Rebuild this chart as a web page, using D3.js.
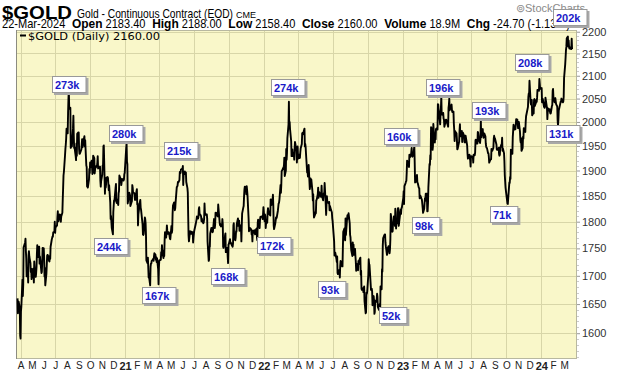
<!DOCTYPE html>
<html><head><meta charset="utf-8">
<script src="https://cdn.jsdelivr.net/npm/d3@7"></script>
<style>body{margin:0;background:#fff}svg{display:block}</style>
</head><body><svg id="c" width="620" height="376"></svg>
<script>
const dates = [
"2020-03-24","2020-03-25","2020-03-26","2020-03-27","2020-03-30","2020-03-31","2020-04-01","2020-04-02","2020-04-03","2020-04-06","2020-04-07","2020-04-08","2020-04-09","2020-04-13","2020-04-14","2020-04-15","2020-04-16","2020-04-17","2020-04-20","2020-04-21","2020-04-22","2020-04-23","2020-04-24","2020-04-27","2020-04-28","2020-04-29","2020-04-30","2020-05-01","2020-05-04","2020-05-05","2020-05-06","2020-05-07","2020-05-08","2020-05-11","2020-05-12","2020-05-13","2020-05-14","2020-05-15","2020-05-18","2020-05-19","2020-05-20","2020-05-21","2020-05-22","2020-05-26","2020-05-27","2020-05-28","2020-05-29","2020-06-01","2020-06-02","2020-06-03","2020-06-04","2020-06-05","2020-06-08","2020-06-09","2020-06-10","2020-06-11","2020-06-12","2020-06-15","2020-06-16","2020-06-17","2020-06-18","2020-06-19","2020-06-22","2020-06-23","2020-06-24","2020-06-25","2020-06-26","2020-06-29","2020-06-30","2020-07-01","2020-07-02","2020-07-06","2020-07-07","2020-07-08","2020-07-09","2020-07-10","2020-07-13","2020-07-14","2020-07-15","2020-07-16","2020-07-17","2020-07-20","2020-07-21","2020-07-22","2020-07-23","2020-07-24","2020-07-27","2020-07-28","2020-07-29","2020-07-30","2020-07-31","2020-08-03","2020-08-04","2020-08-05","2020-08-06","2020-08-07","2020-08-10","2020-08-11","2020-08-12","2020-08-13","2020-08-14","2020-08-17","2020-08-18","2020-08-19","2020-08-20","2020-08-21","2020-08-24","2020-08-25","2020-08-26","2020-08-27","2020-08-28","2020-08-31","2020-09-01","2020-09-02","2020-09-03","2020-09-04","2020-09-08","2020-09-09","2020-09-10","2020-09-11","2020-09-14","2020-09-15","2020-09-16","2020-09-17","2020-09-18","2020-09-21","2020-09-22","2020-09-23","2020-09-24","2020-09-25","2020-09-28","2020-09-29","2020-09-30","2020-10-01","2020-10-02","2020-10-05","2020-10-06","2020-10-07","2020-10-08","2020-10-09","2020-10-12","2020-10-13","2020-10-14","2020-10-15","2020-10-16","2020-10-19","2020-10-20","2020-10-21","2020-10-22","2020-10-23","2020-10-26","2020-10-27","2020-10-28","2020-10-29","2020-10-30","2020-11-02","2020-11-03","2020-11-04","2020-11-05","2020-11-06","2020-11-09","2020-11-10","2020-11-11","2020-11-12","2020-11-13","2020-11-16","2020-11-17","2020-11-18","2020-11-19","2020-11-20","2020-11-23","2020-11-24","2020-11-25","2020-11-27","2020-11-30","2020-12-01","2020-12-02","2020-12-03","2020-12-04","2020-12-07","2020-12-08","2020-12-09","2020-12-10","2020-12-11","2020-12-14","2020-12-15","2020-12-16","2020-12-17","2020-12-18","2020-12-21","2020-12-22","2020-12-23","2020-12-24","2020-12-28","2020-12-29","2020-12-30","2020-12-31",
"2021-01-04","2021-01-05","2021-01-06","2021-01-07","2021-01-08","2021-01-11","2021-01-12","2021-01-13","2021-01-14","2021-01-15","2021-01-19","2021-01-20","2021-01-21","2021-01-22","2021-01-25","2021-01-26","2021-01-27","2021-01-28","2021-01-29","2021-02-01","2021-02-02","2021-02-03","2021-02-04","2021-02-05","2021-02-08","2021-02-09","2021-02-10","2021-02-11","2021-02-12","2021-02-16","2021-02-17","2021-02-18","2021-02-19","2021-02-22","2021-02-23","2021-02-24","2021-02-25","2021-02-26","2021-03-01","2021-03-02","2021-03-03","2021-03-04","2021-03-05","2021-03-08","2021-03-09","2021-03-10","2021-03-11","2021-03-12","2021-03-15","2021-03-16","2021-03-17","2021-03-18","2021-03-19","2021-03-22","2021-03-23","2021-03-24","2021-03-25","2021-03-26","2021-03-29","2021-03-30","2021-03-31","2021-04-01","2021-04-05","2021-04-06","2021-04-07","2021-04-08","2021-04-09","2021-04-12","2021-04-13","2021-04-14","2021-04-15","2021-04-16","2021-04-19","2021-04-20","2021-04-21","2021-04-22","2021-04-23","2021-04-26","2021-04-27","2021-04-28","2021-04-29","2021-04-30","2021-05-03","2021-05-04","2021-05-05","2021-05-06","2021-05-07","2021-05-10","2021-05-11","2021-05-12","2021-05-13","2021-05-14","2021-05-17","2021-05-18","2021-05-19","2021-05-20","2021-05-21","2021-05-24","2021-05-25","2021-05-26","2021-05-27","2021-05-28","2021-06-01","2021-06-02","2021-06-03","2021-06-04","2021-06-07","2021-06-08","2021-06-09","2021-06-10","2021-06-11","2021-06-14","2021-06-15","2021-06-16","2021-06-17","2021-06-18","2021-06-21","2021-06-22","2021-06-23","2021-06-24","2021-06-25","2021-06-28","2021-06-29","2021-06-30","2021-07-01","2021-07-02","2021-07-06","2021-07-07","2021-07-08","2021-07-09","2021-07-12","2021-07-13","2021-07-14","2021-07-15","2021-07-16","2021-07-19","2021-07-20","2021-07-21","2021-07-22","2021-07-23","2021-07-26","2021-07-27","2021-07-28","2021-07-29","2021-07-30","2021-08-02","2021-08-03","2021-08-04","2021-08-05","2021-08-06","2021-08-09","2021-08-10","2021-08-11","2021-08-12","2021-08-13","2021-08-16","2021-08-17","2021-08-18","2021-08-19","2021-08-20","2021-08-23","2021-08-24","2021-08-25","2021-08-26","2021-08-27","2021-08-30","2021-08-31","2021-09-01","2021-09-02","2021-09-03","2021-09-07","2021-09-08","2021-09-09","2021-09-10","2021-09-13","2021-09-14","2021-09-15","2021-09-16","2021-09-17","2021-09-20","2021-09-21","2021-09-22","2021-09-23","2021-09-24","2021-09-27","2021-09-28","2021-09-29","2021-09-30","2021-10-01","2021-10-04","2021-10-05","2021-10-06","2021-10-07","2021-10-08","2021-10-11","2021-10-12","2021-10-13","2021-10-14","2021-10-15","2021-10-18","2021-10-19","2021-10-20","2021-10-21","2021-10-22","2021-10-25","2021-10-26","2021-10-27","2021-10-28","2021-10-29","2021-11-01","2021-11-02","2021-11-03","2021-11-04","2021-11-05","2021-11-08","2021-11-09","2021-11-10","2021-11-11","2021-11-12","2021-11-15","2021-11-16","2021-11-17","2021-11-18","2021-11-19","2021-11-22","2021-11-23","2021-11-24","2021-11-26","2021-11-29","2021-11-30","2021-12-01","2021-12-02","2021-12-03","2021-12-06","2021-12-07","2021-12-08","2021-12-09","2021-12-10","2021-12-13","2021-12-14","2021-12-15","2021-12-16","2021-12-17","2021-12-20","2021-12-21","2021-12-22","2021-12-23","2021-12-27","2021-12-28","2021-12-29","2021-12-30","2021-12-31",
"2022-01-03","2022-01-04","2022-01-05","2022-01-06","2022-01-07","2022-01-10","2022-01-11","2022-01-12","2022-01-13","2022-01-14","2022-01-18","2022-01-19","2022-01-20","2022-01-21","2022-01-24","2022-01-25","2022-01-26","2022-01-27","2022-01-28","2022-01-31","2022-02-01","2022-02-02","2022-02-03","2022-02-04","2022-02-07","2022-02-08","2022-02-09","2022-02-10","2022-02-11","2022-02-14","2022-02-15","2022-02-16","2022-02-17","2022-02-18","2022-02-22","2022-02-23","2022-02-24","2022-02-25","2022-02-28","2022-03-01","2022-03-02","2022-03-03","2022-03-04","2022-03-07","2022-03-08","2022-03-09","2022-03-10","2022-03-11","2022-03-14","2022-03-15","2022-03-16","2022-03-17","2022-03-18","2022-03-21","2022-03-22","2022-03-23","2022-03-24","2022-03-25","2022-03-28","2022-03-29","2022-03-30","2022-03-31","2022-04-01","2022-04-04","2022-04-05","2022-04-06","2022-04-07","2022-04-08","2022-04-11","2022-04-12","2022-04-13","2022-04-14","2022-04-18","2022-04-19","2022-04-20","2022-04-21","2022-04-22","2022-04-25","2022-04-26","2022-04-27","2022-04-28","2022-04-29","2022-05-02","2022-05-03","2022-05-04","2022-05-05","2022-05-06","2022-05-09","2022-05-10","2022-05-11","2022-05-12","2022-05-13","2022-05-16","2022-05-17","2022-05-18","2022-05-19","2022-05-20","2022-05-23","2022-05-24","2022-05-25","2022-05-26","2022-05-27","2022-05-31","2022-06-01","2022-06-02","2022-06-03","2022-06-06","2022-06-07","2022-06-08","2022-06-09","2022-06-10","2022-06-13","2022-06-14","2022-06-15","2022-06-16","2022-06-17","2022-06-21","2022-06-22","2022-06-23","2022-06-24","2022-06-27","2022-06-28","2022-06-29","2022-06-30","2022-07-01","2022-07-05","2022-07-06","2022-07-07","2022-07-08","2022-07-11","2022-07-12","2022-07-13","2022-07-14","2022-07-15","2022-07-18","2022-07-19","2022-07-20","2022-07-21","2022-07-22","2022-07-25","2022-07-26","2022-07-27","2022-07-28","2022-07-29","2022-08-01","2022-08-02","2022-08-03","2022-08-04","2022-08-05","2022-08-08","2022-08-09","2022-08-10","2022-08-11","2022-08-12","2022-08-15","2022-08-16","2022-08-17","2022-08-18","2022-08-19","2022-08-22","2022-08-23","2022-08-24","2022-08-25","2022-08-26","2022-08-29","2022-08-30","2022-08-31","2022-09-01","2022-09-02","2022-09-06","2022-09-07","2022-09-08","2022-09-09","2022-09-12","2022-09-13","2022-09-14","2022-09-15","2022-09-16","2022-09-19","2022-09-20","2022-09-21","2022-09-22","2022-09-23","2022-09-26","2022-09-27","2022-09-28","2022-09-29","2022-09-30","2022-10-03","2022-10-04","2022-10-05","2022-10-06","2022-10-07","2022-10-10","2022-10-11","2022-10-12","2022-10-13","2022-10-14","2022-10-17","2022-10-18","2022-10-19","2022-10-20","2022-10-21","2022-10-24","2022-10-25","2022-10-26","2022-10-27","2022-10-28","2022-10-31","2022-11-01","2022-11-02","2022-11-03","2022-11-04","2022-11-07","2022-11-08","2022-11-09","2022-11-10","2022-11-11","2022-11-14","2022-11-15","2022-11-16","2022-11-17","2022-11-18","2022-11-21","2022-11-22","2022-11-23","2022-11-25","2022-11-28","2022-11-29","2022-11-30","2022-12-01","2022-12-02","2022-12-05","2022-12-06","2022-12-07","2022-12-08","2022-12-09","2022-12-12","2022-12-13","2022-12-14","2022-12-15","2022-12-16","2022-12-19","2022-12-20","2022-12-21","2022-12-22","2022-12-23","2022-12-27","2022-12-28","2022-12-29","2022-12-30",
"2023-01-03","2023-01-04","2023-01-05","2023-01-06","2023-01-09","2023-01-10","2023-01-11","2023-01-12","2023-01-13","2023-01-17","2023-01-18","2023-01-19","2023-01-20","2023-01-23","2023-01-24","2023-01-25","2023-01-26","2023-01-27","2023-01-30","2023-01-31","2023-02-01","2023-02-02","2023-02-03","2023-02-06","2023-02-07","2023-02-08","2023-02-09","2023-02-10","2023-02-13","2023-02-14","2023-02-15","2023-02-16","2023-02-17","2023-02-21","2023-02-22","2023-02-23","2023-02-24","2023-02-27","2023-02-28","2023-03-01","2023-03-02","2023-03-03","2023-03-06","2023-03-07","2023-03-08","2023-03-09","2023-03-10","2023-03-13","2023-03-14","2023-03-15","2023-03-16","2023-03-17","2023-03-20","2023-03-21","2023-03-22","2023-03-23","2023-03-24","2023-03-27","2023-03-28","2023-03-29","2023-03-30","2023-03-31","2023-04-03","2023-04-04","2023-04-05","2023-04-06","2023-04-10","2023-04-11","2023-04-12","2023-04-13","2023-04-14","2023-04-17","2023-04-18","2023-04-19","2023-04-20","2023-04-21","2023-04-24","2023-04-25","2023-04-26","2023-04-27","2023-04-28","2023-05-01","2023-05-02","2023-05-03","2023-05-04","2023-05-05","2023-05-08","2023-05-09","2023-05-10","2023-05-11","2023-05-12","2023-05-15","2023-05-16","2023-05-17","2023-05-18","2023-05-19","2023-05-22","2023-05-23","2023-05-24","2023-05-25","2023-05-26","2023-05-30","2023-05-31","2023-06-01","2023-06-02","2023-06-05","2023-06-06","2023-06-07","2023-06-08","2023-06-09","2023-06-12","2023-06-13","2023-06-14","2023-06-15","2023-06-16","2023-06-20","2023-06-21","2023-06-22","2023-06-23","2023-06-26","2023-06-27","2023-06-28","2023-06-29","2023-06-30","2023-07-03","2023-07-05","2023-07-06","2023-07-07","2023-07-10","2023-07-11","2023-07-12","2023-07-13","2023-07-14","2023-07-17","2023-07-18","2023-07-19","2023-07-20","2023-07-21","2023-07-24","2023-07-25","2023-07-26","2023-07-27","2023-07-28","2023-07-31","2023-08-01","2023-08-02","2023-08-03","2023-08-04","2023-08-07","2023-08-08","2023-08-09","2023-08-10","2023-08-11","2023-08-14","2023-08-15","2023-08-16","2023-08-17","2023-08-18","2023-08-21","2023-08-22","2023-08-23","2023-08-24","2023-08-25","2023-08-28","2023-08-29","2023-08-30","2023-08-31","2023-09-01","2023-09-05","2023-09-06","2023-09-07","2023-09-08","2023-09-11","2023-09-12","2023-09-13","2023-09-14","2023-09-15","2023-09-18","2023-09-19","2023-09-20","2023-09-21","2023-09-22","2023-09-25","2023-09-26","2023-09-27","2023-09-28","2023-09-29","2023-10-02","2023-10-03","2023-10-04","2023-10-05","2023-10-06","2023-10-09","2023-10-10","2023-10-11","2023-10-12","2023-10-13","2023-10-16","2023-10-17","2023-10-18","2023-10-19","2023-10-20","2023-10-23","2023-10-24","2023-10-25","2023-10-26","2023-10-27","2023-10-30","2023-10-31","2023-11-01","2023-11-02","2023-11-03","2023-11-06","2023-11-07","2023-11-08","2023-11-09","2023-11-10","2023-11-13","2023-11-14","2023-11-15","2023-11-16","2023-11-17","2023-11-20","2023-11-21","2023-11-22","2023-11-24","2023-11-27","2023-11-28","2023-11-29","2023-11-30","2023-12-01","2023-12-04","2023-12-05","2023-12-06","2023-12-07","2023-12-08","2023-12-11","2023-12-12","2023-12-13","2023-12-14","2023-12-15","2023-12-18","2023-12-19","2023-12-20","2023-12-21","2023-12-22","2023-12-26","2023-12-27","2023-12-28","2023-12-29",
"2024-01-02","2024-01-03","2024-01-04","2024-01-05","2024-01-08","2024-01-09","2024-01-10","2024-01-11","2024-01-12","2024-01-16","2024-01-17","2024-01-18","2024-01-19","2024-01-22","2024-01-23","2024-01-24","2024-01-25","2024-01-26","2024-01-29","2024-01-30","2024-01-31","2024-02-01","2024-02-02","2024-02-05","2024-02-06","2024-02-07","2024-02-08","2024-02-09","2024-02-12","2024-02-13","2024-02-14","2024-02-15","2024-02-16","2024-02-20","2024-02-21","2024-02-22","2024-02-23","2024-02-26","2024-02-27","2024-02-28","2024-02-29","2024-03-01","2024-03-04","2024-03-05","2024-03-06","2024-03-07","2024-03-08","2024-03-11","2024-03-12","2024-03-13","2024-03-14","2024-03-15","2024-03-18","2024-03-19","2024-03-20","2024-03-21","2024-03-22"
];
const closes = [
1660,1634,1651,1654,1643,1596,1591,1637,1645,1693,1664,1684,1752,1761,1768,1745,1731,1699,1711,1688,1737,1745,1735,1723,1707,1713,1694,1700,1713,1706,1688,1726,1713,1698,1705,1716,1740,1756,1734,1749,1753,1722,1735,1705,1707,1725,1751,1750,1734,1699,1714,1683,1704,1721,1737,1738,1737,1727,1726,1736,1731,1753,1766,1769,1772,1772,1780,1781,1800,1779,1789,1793,1809,1820,1803,1801,1814,1813,1812,1800,1810,1817,1843,1865,1890,1897,1931,1944,1953,1965,1986,1976,2019,2049,2069,2028,2030,1946,1948,1970,1949,1987,2013,1970,1946,1947,1929,1921,1955,1930,1975,1978,1978,1944,1934,1934,1943,1954,1964,1947,1964,1966,1970,1949,1962,1910,1907,1868,1876,1866,1882,1903,1895,1916,1907,1920,1908,1893,1895,1930,1925,1894,1901,1908,1906,1911,1915,1929,1904,1905,1906,1908,1879,1868,1879,1892,1910,1910,1949,1951,1854,1876,1866,1873,1886,1887,1885,1873,1861,1871,1837,1805,1811,1788,1776,1818,1830,1841,1840,1866,1873,1839,1836,1843,1832,1855,1859,1890,1888,1882,1871,1877,1883,1880,1882,1893,1895,
1946,1954,1918,1913,1835,1850,1856,1854,1851,1830,1840,1871,1866,1856,1855,1850,1842,1842,1850,1863,1833,1835,1793,1814,1832,1838,1842,1827,1823,1795,1776,1775,1777,1808,1805,1797,1775,1728,1723,1733,1715,1697,1699,1683,1716,1722,1722,1727,1729,1731,1727,1735,1741,1738,1729,1734,1725,1732,1712,1685,1715,1728,1729,1743,1737,1756,1744,1732,1746,1736,1764,1780,1770,1778,1793,1783,1777,1780,1778,1773,1768,1767,1792,1779,1784,1815,1831,1837,1836,1822,1826,1838,1867,1868,1870,1877,1876,1881,1897,1896,1895,1902,1904,1909,1871,1891,1898,1893,1895,1896,1877,1865,1856,1812,1774,1763,1782,1778,1780,1777,1781,1780,1761,1770,1777,1783,1796,1800,1804,1810,1806,1809,1824,1828,1815,1812,1810,1801,1806,1801,1797,1799,1806,1835,1817,1813,1812,1814,1806,1763,1727,1729,1752,1753,1778,1788,1787,1788,1780,1781,1805,1793,1788,1795,1817,1812,1817,1815,1810,1833,1797,1793,1795,1791,1793,1805,1796,1753,1751,1763,1774,1778,1743,1751,1751,1734,1723,1757,1758,1767,1760,1761,1759,1757,1753,1759,1793,1797,1768,1765,1770,1782,1781,1796,1806,1792,1797,1802,1783,1793,1788,1763,1793,1816,1827,1830,1848,1862,1868,1867,1853,1869,1861,1852,1805,1782,1784,1788,1785,1776,1780,1763,1783,1779,1784,1783,1776,1783,1787,1770,1765,1798,1804,1795,1788,1803,1809,1810,1810,1805,1814,1828,
1801,1814,1810,1788,1797,1798,1818,1826,1821,1816,1812,1843,1843,1832,1841,1852,1830,1793,1786,1796,1801,1808,1806,1808,1821,1828,1835,1836,1842,1871,1856,1871,1899,1900,1907,1910,1926,1889,1900,1944,1922,1936,1966,1995,2043,1988,2000,1985,1960,1929,1929,1943,1929,1936,1922,1944,1958,1954,1939,1916,1933,1949,1924,1932,1925,1926,1937,1945,1954,1976,1977,1974,1986,1949,1954,1948,1934,1896,1904,1888,1892,1911,1863,1870,1884,1875,1882,1858,1841,1853,1824,1808,1814,1818,1816,1841,1842,1853,1866,1846,1851,1857,1848,1848,1870,1850,1841,1852,1855,1852,1875,1832,1813,1835,1849,1839,1835,1838,1822,1830,1822,1820,1818,1807,1801,1763,1737,1740,1742,1731,1725,1735,1705,1703,1709,1711,1697,1718,1727,1719,1717,1717,1750,1781,1787,1771,1765,1806,1775,1805,1812,1813,1806,1816,1797,1775,1771,1758,1747,1736,1761,1751,1757,1738,1749,1736,1726,1709,1722,1710,1727,1721,1728,1733,1702,1709,1677,1675,1678,1671,1674,1681,1655,1634,1636,1670,1668,1672,1702,1730,1721,1720,1709,1675,1676,1677,1672,1648,1664,1656,1633,1636,1656,1654,1658,1668,1663,1645,1640,1649,1650,1630,1681,1676,1712,1708,1755,1769,1774,1776,1776,1761,1754,1738,1740,1750,1754,1741,1749,1768,1815,1809,1781,1782,1798,1799,1810,1792,1825,1818,1787,1800,1797,1826,1826,1792,1798,1823,1815,1826,1826,
1846,1859,1834,1869,1875,1878,1879,1896,1920,1910,1907,1932,1926,1931,1937,1946,1930,1928,1933,1942,1950,1916,1876,1879,1887,1891,1876,1875,1865,1865,1845,1848,1850,1842,1834,1826,1817,1825,1836,1845,1840,1854,1854,1820,1820,1836,1867,1913,1911,1931,1923,1989,1983,1942,1949,1996,1983,1957,1973,1964,1985,1986,1984,2038,2037,2026,1995,2019,2029,2055,2016,2015,2019,2007,2005,1990,2000,2005,2005,1999,1999,1990,2030,2037,2050,2025,2032,2035,2037,2025,2021,2022,1996,1983,1960,1981,1977,1976,1964,1943,1944,1959,1982,1995,1970,1975,1981,1958,1978,1977,1971,1958,1957,1971,1971,1951,1934,1924,1930,1932,1924,1921,1908,1929,1928,1927,1916,1932,1931,1937,1962,1963,1955,1955,1979,1977,1970,1962,1956,1965,2004,1968,1980,1985,1973,1967,1968,1976,1970,1955,1949,1946,1946,1935,1935,1928,1916,1918,1923,1923,1944,1942,1940,1946,1965,1971,1966,1966,1953,1943,1942,1942,1946,1933,1930,1932,1946,1953,1953,1967,1940,1945,1935,1919,1891,1878,1866,1847,1841,1835,1834,1845,1876,1875,1887,1883,1942,1934,1934,1968,1981,1994,1984,1985,1985,1995,2006,2005,1996,1987,1993,2000,1979,1962,1957,1966,1940,1946,1969,1965,1987,1984,1979,2000,2012,2020,2032,2053,2061,2057,2089,2042,2037,2047,2047,2014,2020,2018,2047,2049,2034,2041,2047,2043,2052,2069,2067,2093,2083,2071,
2073,2042,2050,2049,2033,2031,2030,2034,2052,2030,2006,2022,2029,2024,2027,2021,2018,2018,2034,2036,2067,2071,2053,2042,2050,2051,2044,2038,2033,2004,1992,2004,2024,2039,2043,2043,2050,2044,2042,2044,2054,2095,2126,2141,2158,2165,2185,2189,2166,2180,2167,2161,2164,2160,2160,2184,2160
];

const yTickValues = [1600,1650,1700,1750,1800,1850,1900,1950,2000,2050,2100,2150,2200];
const monthLabels = ["A","M","J","J","A","S","O","N","D","21","F","M","A","M","J","J","A","S","O","N","D","22","F","M","A","M","J","J","A","S","O","N","D","23","F","M","A","M","J","J","A","S","O","N","D","24","F","M"];
const gridDates = ["2020-04-01","2020-07-01","2020-10-01","2021-01-01","2021-04-01","2021-07-01","2021-10-01","2022-01-01","2022-04-01","2022-07-01","2022-10-01","2023-01-01","2023-04-01","2023-07-01","2023-10-01","2024-01-01"];

const volText   = ["273k","280k","215k","244k","167k","168k","172k","274k","93k","52k","160k","196k","98k","193k","71k","208k","131k","202k"];
const volDate   = ["2020-08-09","2021-01-06","2021-06-01","2020-11-29","2021-04-04","2021-10-03","2022-02-01","2022-03-09","2022-07-02","2022-12-09","2023-01-01","2023-04-21","2023-03-08","2023-08-21","2023-09-29","2023-12-11","2024-03-01","2024-03-20"];
const volPrice  = [2079,1973,1938,1752,1664,1697,1753,2071,1673,1628,1967,2071,1790,2022,1811,2127,1973,2232];

const headerFields = [["","22-Mar-2024"],["Open","2183.40"],["High","2188.00"],["Low","2158.40"],["Close","2160.00"],["Volume","18.9M"],["Chg","-24.70 (-1.13%)"]];

const parse = d3.timeParse("%Y-%m-%d");
const series = dates.map((d,i)=>({date:parse(d), close:closes[i]}));

const L=16, R=577, T=30, B=359;
const svg = d3.select("#c");
const x = d3.scaleTime().domain([parse("2020-03-20"), parse("2024-04-04")]).range([L,R]);
const y = d3.scaleLog().domain([1557,2204]).range([B,T]);
const sans = "Arial, 'Liberation Sans', sans-serif";

svg.append("rect").attr("width",620).attr("height",376).attr("fill","#fff");
svg.append("rect").attr("x",L).attr("y",T).attr("width",R-L).attr("height",B-T).attr("fill","#f9f7c9");

// gridlines
svg.append("g").selectAll("line").data(yTickValues).join("line")
  .attr("x1",L).attr("x2",R).attr("y1",d=>Math.round(y(d))+0.5).attr("y2",d=>Math.round(y(d))+0.5)
  .attr("stroke","#d8d6a8").attr("stroke-width",1);
svg.append("g").selectAll("line").data(gridDates.map(parse)).join("line")
  .attr("y1",T).attr("y2",B).attr("x1",d=>Math.round(x(d))+0.5).attr("x2",d=>Math.round(x(d))+0.5)
  .attr("stroke","#d8d6a8").attr("stroke-width",1);

// border
svg.append("rect").attr("x",L+0.5).attr("y",T+0.5).attr("width",R-L-1).attr("height",B-T-1)
  .attr("fill","none").attr("stroke","#b8b8a0");
svg.append("line").attr("x1",L+0.5).attr("x2",L+0.5).attr("y1",T).attr("y2",B).attr("stroke","#8c8c80");

// y axis
const yAxis = d3.axisRight(y).tickValues(yTickValues).tickSize(3).tickPadding(2).tickFormat(d3.format("d"));
const ga = svg.append("g").attr("transform",`translate(${R},0)`).call(yAxis);
ga.select(".domain").remove();
ga.selectAll(".tick line").attr("stroke","#999");
ga.selectAll("text").attr("font-family",sans).attr("font-size",11).attr("fill","#333");
// minor ticks
const minorTicks = y.ticks(60).filter(v=>v%50!==0);
svg.append("g").selectAll("line").data(minorTicks).join("line")
  .attr("x1",R).attr("x2",R+2).attr("y1",d=>Math.round(y(d))+0.5).attr("y2",d=>Math.round(y(d))+0.5).attr("stroke","#ccc");

// x axis
const months = d3.timeMonth.range(parse("2020-04-01"), parse("2024-03-02"));
const xAxis = d3.axisBottom(x).tickValues(months).tickSize(0).tickPadding(3)
  .tickFormat((d,i)=>monthLabels[i]);
const gx = svg.append("g").attr("transform",`translate(0,${B})`).call(xAxis);
gx.select(".domain").remove();
gx.selectAll("text").attr("font-family",sans).attr("fill","#222")
  .attr("font-weight",(d,i)=>/\d/.test(monthLabels[i])?"bold":"normal")
  .attr("font-size",(d,i)=>/\d/.test(monthLabels[i])?11:10);

// price line
const line = d3.line().x(d=>x(d.date)).y(d=>y(d.close));
svg.append("path").datum(series).attr("d",line).attr("fill","none").attr("stroke","#000")
  .attr("stroke-width",1.9).attr("stroke-linejoin","round");

// legend
svg.append("line").attr("x1",20).attr("x2",26).attr("y1",35.5).attr("y2",35.5).attr("stroke","#000").attr("stroke-width",2);
svg.append("text").attr("x",28).attr("y",39.5).attr("font-family","'DejaVu Sans', Verdana, sans-serif").attr("font-size",11)
  .attr("textLength",132).attr("lengthAdjust","spacingAndGlyphs")
  .attr("fill","#000").text("$GOLD (Daily) 2160.00");

// header line 1
svg.append("text").attr("x",2).attr("y",19).attr("font-family",sans).attr("font-weight","bold").attr("font-size",19)
  .attr("textLength",70).attr("lengthAdjust","spacingAndGlyphs").attr("fill","#000").text("$GOLD");
svg.append("text").attr("x",77).attr("y",18).attr("font-family",sans).attr("font-size",13)
  .attr("textLength",156).attr("lengthAdjust","spacingAndGlyphs").attr("fill","#000").text("Gold - Continuous Contract (EOD)");
svg.append("text").attr("x",236).attr("y",18).attr("font-family",sans).attr("font-size",9).attr("fill","#000").text("CME");
svg.append("text").attr("x",516).attr("y",12).attr("font-family",sans).attr("font-size",11).attr("fill","#8a8a8a")
  .attr("textLength",69).attr("lengthAdjust","spacingAndGlyphs").text("\u229AStockCharts");

// header line 2 (condensed to the reference width)
const g2 = svg.append("g");
const h2 = g2.append("text").attr("x",0).attr("y",0).attr("font-family",sans).attr("font-size",12.5).attr("fill","#000");
headerFields.forEach((f,i)=>{
  const last = i===headerFields.length-1;
  if(f[0]) h2.append("tspan").attr("font-weight","bold").attr("font-size",13.5).text("\u00A0\u00A0" + f[0]);
  h2.append("tspan").text((f[0]?"\u00A0":"") + (last ? f[1].slice(0,-2) : f[1]));
});
const bb = h2.node().getBBox();
const sx = 555 / (bb.x + bb.width);
g2.attr("transform",`translate(2,28) scale(${sx},1)`);
h2.append("tspan").text(headerFields[headerFields.length-1][1].slice(-2));

// volume labels
const vg = svg.append("g");
volText.forEach((t,i)=>{
  const cx = x(parse(volDate[i])), cy = y(volPrice[i]);
  const g = vg.append("g");
  const tx = g.append("text").attr("font-family",sans).attr("font-weight","bold")
    .attr("font-size",11).attr("fill","#1a1ac8").text(t);
  const w = tx.node().getComputedTextLength() + 12, h = 19;
  const left = Math.round(cx - w/2), top = Math.round(cy - h/2);
  g.insert("rect","text").attr("x",left+2).attr("y",top+2).attr("width",w-2).attr("height",h-2).attr("fill","#a8a8a8");
  g.insert("rect","text").attr("x",left+0.5).attr("y",top+0.5).attr("width",w-3).attr("height",h-3).attr("fill","#fff").attr("stroke","#999");
  tx.attr("x",left+3).attr("y",top+13);
});
</script>
</body></html>
